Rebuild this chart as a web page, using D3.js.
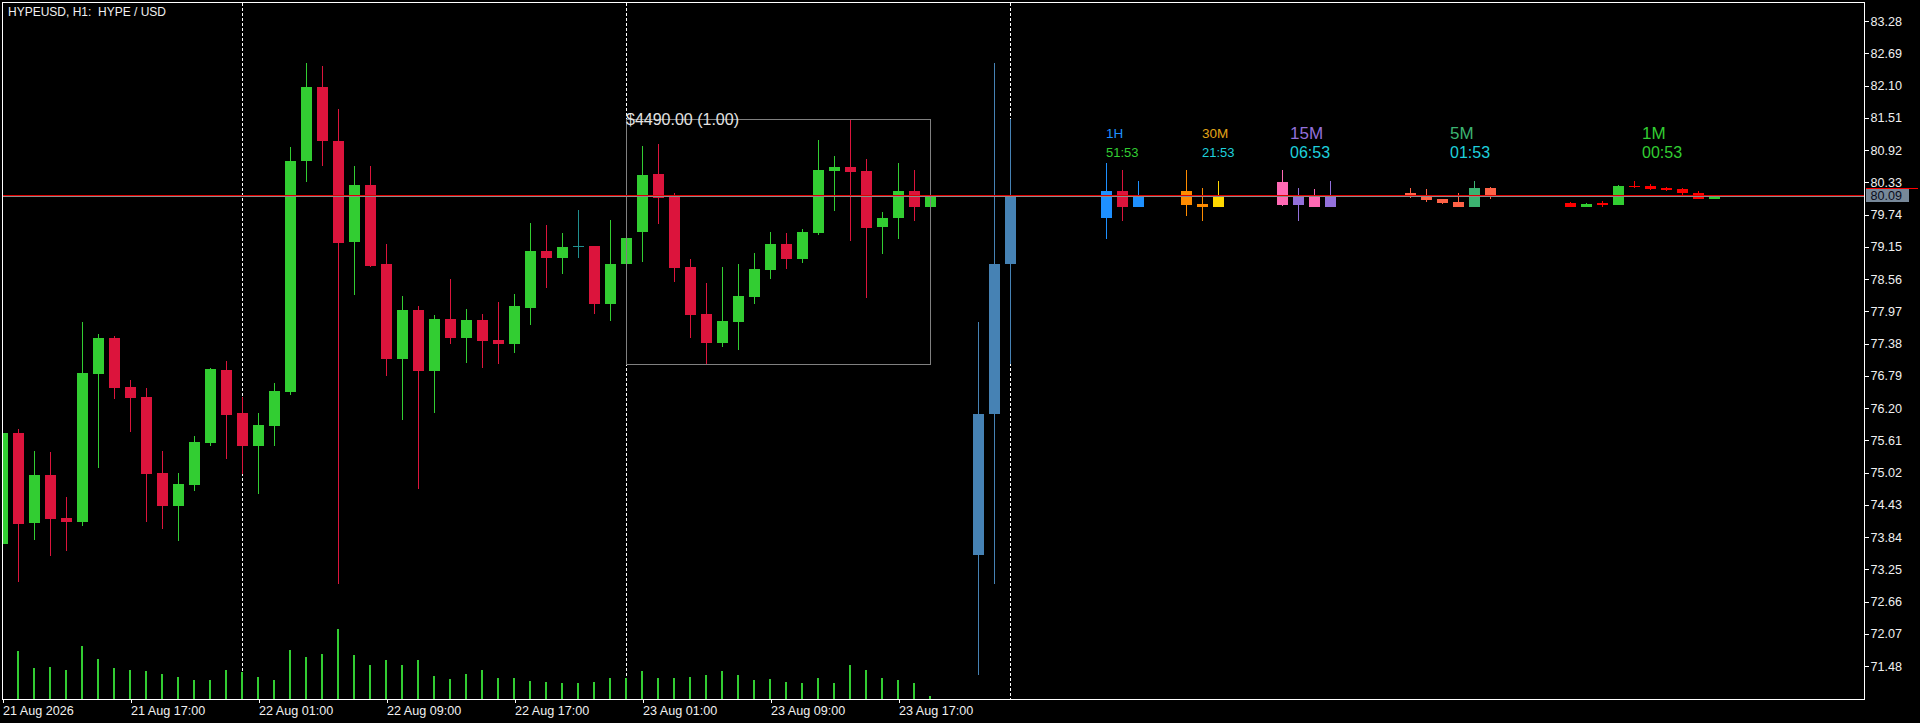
<!DOCTYPE html>
<html><head><meta charset="utf-8">
<script src="https://cdn.jsdelivr.net/npm/d3@7"></script>
<style>
html,body{margin:0;padding:0;background:#000;overflow:hidden}
svg{display:block}
</style></head><body>
<svg id="chart" width="1920" height="723"></svg>
<script>
// ---------------- DATA ----------------
const chartTitle = "HYPEUSD, H1:  HYPE / USD";
const xTickIndex = [0, 8, 16, 24, 32, 40, 48, 56];
const xTickLabels = ["21 Aug 2026","21 Aug 17:00","22 Aug 01:00","22 Aug 09:00","22 Aug 17:00","23 Aug 01:00","23 Aug 09:00","23 Aug 17:00"];
const yTickLabels = ["83.28","82.69","82.10","81.51","80.92","80.33","79.74","79.15","78.56","77.97","77.38","76.79","76.20","75.61","75.02","74.43","73.84","73.25","72.66","72.07","71.48"];
const daySeparators = [15, 39, 63];

const h1Open  = [73.72,75.75,74.10,74.98,74.19,74.12,76.83,77.48,76.59,76.40,75.01,74.41,74.79,75.56,76.90,76.11,75.51,75.87,76.50,80.72,82.08,81.09,79.24,80.28,78.84,77.10,78.00,76.88,77.83,77.48,77.81,77.45,77.37,78.03,79.08,78.95,79.17,79.17,78.11,78.84,79.43,80.49,80.06,78.78,77.92,77.39,77.78,78.23,78.73,79.20,78.93,79.41,80.54,80.61,80.54,79.52,79.68,80.17,79.88];
const h1High  = [75.80,75.82,75.42,75.40,74.58,77.78,77.56,77.52,76.72,76.57,75.42,75.01,75.69,76.93,77.06,76.40,76.11,76.66,80.98,82.51,82.46,81.67,80.63,80.63,79.20,78.25,78.07,77.91,78.56,78.02,77.92,78.14,78.29,79.59,79.55,79.41,79.83,79.17,79.64,79.33,81.00,81.03,80.14,78.93,78.49,78.78,78.84,79.04,79.42,79.41,79.48,81.11,80.81,81.47,80.76,79.79,80.69,80.56,80.09];
const h1Low   = [73.20,73.02,73.79,73.50,73.59,74.05,75.11,76.37,75.76,74.12,73.99,73.77,74.69,75.51,75.27,75.00,74.63,75.51,76.44,80.33,80.64,72.98,78.27,78.78,76.79,75.98,74.72,76.11,77.37,77.03,76.94,77.01,77.21,77.72,78.40,78.66,78.95,77.92,77.80,78.82,78.88,79.57,78.51,77.48,77.01,77.32,77.27,78.11,78.56,78.75,78.86,79.37,79.81,79.26,78.22,79.02,79.30,79.63,79.88];
const h1Close = [75.75,74.09,74.98,74.17,74.12,76.84,77.48,76.57,76.39,75.00,74.41,74.81,75.58,76.92,76.08,75.51,75.89,76.51,80.72,82.08,81.08,79.22,80.28,78.80,77.10,78.00,76.88,77.83,77.48,77.81,77.43,77.37,78.07,79.08,78.95,79.15,79.17,78.11,78.84,79.31,80.47,80.05,78.77,77.91,77.39,77.80,78.25,78.75,79.20,78.93,79.42,80.56,80.61,80.52,79.50,79.68,80.17,79.88,80.09];
const h1Volume = [30,48,31,32,29,53,40,31,29,28,25,22,19,19,29,27,22,19,49,42,45,70,44,34,39,34,39,23,20,25,29,21,21,18,17,16,16,17,21,21,28,21,21,22,24,28,24,19,20,17,16,21,16,34,29,21,19,16,3];

// higher-timeframe overview candles drawn after the H1 bars
const ovIndex = [61, 62, 63];
const ovOpen  = [73.52, 76.10, 78.84];
const ovHigh  = [77.78, 82.51, 81.49];
const ovLow   = [71.31, 72.99, 77.00];
const ovClose = [76.10, 78.84, 80.09];

// multi-timeframe mini candles [open, high, low, close]
const tfNames  = ["1H", "30M", "15M", "5M", "1M"];
const tfTimers = ["51:53", "21:53", "06:53", "01:53", "00:53"];
const tfStart  = [69, 74, 80, 88, 98];
const tf1H  = [[79.68,80.69,79.30,80.17],[80.17,80.56,79.63,79.89],[79.89,80.36,79.89,80.08]];
const tf30M = [[80.17,80.56,79.72,79.92],[79.94,80.23,79.63,79.89],[79.89,80.36,79.89,80.08]];
const tf15M = [[80.34,80.56,79.90,79.92],[79.92,80.23,79.63,80.07],[80.08,80.21,79.89,79.89],[79.89,80.36,79.89,80.08]];
const tf5M  = [[80.14,80.23,80.05,80.07],[80.08,80.21,79.98,80.01],[80.03,80.03,79.94,79.96],[79.97,80.14,79.89,79.89],[79.89,80.36,79.89,80.23],[80.23,80.25,80.03,80.08]];
const tf1M  = [[79.95,79.97,79.89,79.89],[79.89,79.95,79.89,79.94],[79.96,79.99,79.89,79.92],[79.92,80.28,79.92,80.26],[80.27,80.36,80.23,80.25],[80.26,80.30,80.19,80.21],[80.23,80.25,80.17,80.20],[80.21,80.23,80.07,80.13],[80.14,80.17,80.03,80.03],[80.03,80.08,80.03,80.08]];

const boxFrom = 39, boxTo = 58, boxHigh = 81.49, boxLow = 77.01;
const boxLabel = "$4490.00 (1.00)";
const bidPrice = 80.09;
const linePrice = 80.07;

// ---------------- DRAW ----------------
const svg = d3.select("#chart");
const W = 1920, H = 723;
const L = 2.5, T = 2.5, R = 1864.5, B = 699.5;

const xs = d3.scaleLinear().domain([0, 116]).range([2.5, 1858.5]);
const ys = d3.scaleLinear().domain([71.48, 83.28]).range([666.2, 21.2]);
const yv = d3.scaleLinear().domain([0, 100]).range([699, 599]);

svg.append("rect").attr("width", W).attr("height", H).attr("fill", "#000");

svg.append("defs").append("clipPath").attr("id", "plot")
  .append("rect").attr("x", 3).attr("y", 3).attr("width", 1861).attr("height", 696);

const plot = svg.append("g").attr("clip-path", "url(#plot)").attr("shape-rendering", "crispEdges");

// day separators
plot.selectAll("line.sep").data(daySeparators).join("line")
  .attr("x1", d => xs(d)).attr("x2", d => xs(d))
  .attr("y1", 3).attr("y2", 699)
  .attr("stroke", "#ffffff").attr("stroke-width", 1).attr("stroke-dasharray", "3,2");

// volumes
plot.selectAll("rect.vol").data(h1Volume).join("rect")
  .attr("x", (d, i) => xs(i) - 1.5)
  .attr("y", d => Math.round(yv(d)))
  .attr("width", 2)
  .attr("height", d => 699 - Math.round(yv(d)))
  .attr("fill", "#32CD32");

function candle(g, i, o, h, l, c, color) {
  const x = xs(i);
  const yH = Math.round(ys(h)), yL = Math.round(ys(l));
  const yT = Math.round(ys(Math.max(o, c))), yB = Math.round(ys(Math.min(o, c)));
  g.append("line").attr("x1", x).attr("x2", x).attr("y1", yH).attr("y2", Math.max(yL, yH + 1))
    .attr("stroke", color).attr("stroke-width", 1);
  g.append("rect").attr("x", x - 5.5).attr("y", yT).attr("width", 11)
    .attr("height", Math.max(1, yB - yT)).attr("fill", color);
}

const bull = "#32CD32", bear = "#DC143C", doji = "#1f8f8f";
h1Open.forEach((o, i) => {
  const c = h1Close[i];
  const col = c > o ? bull : (c < o ? bear : doji);
  candle(plot, i, o, h1High[i], h1Low[i], c, col);
});

ovIndex.forEach((idx, k) => candle(plot, idx, ovOpen[k], ovHigh[k], ovLow[k], ovClose[k], "#4682B4"));

const tfData = [tf1H, tf30M, tf15M, tf5M, tf1M];
const tfBull = ["#1E90FF", "#FFD700", "#9370DB", "#3CB371", "#32CD32"];
const tfBear = ["#DC143C", "#FF8C00", "#FF69B4", "#FF6347", "#FF0000"];
tfData.forEach((arr, g) => {
  arr.forEach((d, k) => {
    candle(plot, tfStart[g] + k, d[0], d[1], d[2], d[3], d[3] >= d[0] ? tfBull[g] : tfBear[g]);
  });
});

// rectangle object
plot.append("rect")
  .attr("x", xs(boxFrom)).attr("y", Math.round(ys(boxHigh)) + 0.5)
  .attr("width", xs(boxTo) - xs(boxFrom))
  .attr("height", Math.round(ys(boxLow)) - Math.round(ys(boxHigh)))
  .attr("fill", "none").attr("stroke", "#808080").attr("stroke-width", 1);

// horizontal lines
plot.append("line").attr("x1", 3).attr("x2", 1864)
  .attr("y1", Math.floor(ys(linePrice)) + 0.5).attr("y2", Math.floor(ys(linePrice)) + 0.5)
  .attr("stroke", "#8c8c8c").attr("stroke-width", 1);
plot.append("line").attr("x1", 3).attr("x2", 1864)
  .attr("y1", Math.floor(ys(bidPrice)) + 0.5).attr("y2", Math.floor(ys(bidPrice)) + 0.5)
  .attr("stroke", "#E00000").attr("stroke-width", 1);

// texts in plot
svg.append("text").attr("x", 626).attr("y", 125)
  .attr("font-family", "Liberation Sans, Arial, sans-serif").attr("font-size", 16)
  .attr("fill", "#e4e4e4").text(boxLabel);

svg.append("text").attr("x", 8).attr("y", 16)
  .attr("font-family", "Liberation Sans, Arial, sans-serif").attr("font-size", 12)
  .style("white-space", "pre").attr("fill", "#f0f0f0").text(chartTitle);

const tfNameColor  = ["#1E90FF", "#E0A418", "#9370DB", "#3CB371", "#32CD32"];
const tfTimerColor = ["#32CD32", "#1ED0DC", "#1ED0DC", "#1ED0DC", "#32CD32"];
const tfLabelOffset = [0, 1, 0.5, 2.5, 4.5];
const tfNameSize  = [13.5, 13.5, 17, 17, 17];
const tfTimerSize = [13, 13, 16, 16, 16];
const tfNameY  = [137.7, 137.7, 139, 139, 139];
const tfTimerY = [156.7, 156.7, 158, 158, 158];
tfNames.forEach((n, g) => {
  const x = xs(tfStart[g] + tfLabelOffset[g]) - 0.5;
  svg.append("text").attr("x", x).attr("y", tfNameY[g])
    .attr("font-family", "Liberation Sans, Arial, sans-serif").attr("font-size", tfNameSize[g])
    .attr("fill", tfNameColor[g]).text(n);
  svg.append("text").attr("x", x).attr("y", tfTimerY[g])
    .attr("font-family", "Liberation Sans, Arial, sans-serif").attr("font-size", tfTimerSize[g])
    .attr("fill", tfTimerColor[g]).text(tfTimers[g]);
});

// frame
svg.append("rect").attr("x", L).attr("y", T).attr("width", R - L).attr("height", B - T)
  .attr("fill", "none").attr("stroke", "#ffffff").attr("stroke-width", 1)
  .attr("shape-rendering", "crispEdges");

// axes
const axisFont = "Liberation Sans, Arial, sans-serif";
const yAxis = d3.axisRight(ys)
  .tickValues(yTickLabels.map(Number))
  .tickFormat((d, i) => yTickLabels[i])
  .tickSize(4).tickPadding(2);
const gy = svg.append("g").attr("transform", `translate(${R},0)`).call(yAxis);
gy.select(".domain").remove();
gy.selectAll("line").attr("stroke", "#ffffff").attr("shape-rendering", "crispEdges");
gy.selectAll("text").attr("fill", "#f0f0f0").attr("font-family", axisFont).attr("font-size", 12.6);

const xAxis = d3.axisBottom(xs)
  .tickValues(xTickIndex)
  .tickFormat((d, i) => xTickLabels[i])
  .tickSize(4).tickPadding(3);
const gx = svg.append("g").attr("transform", `translate(0,${B - 0.5})`).call(xAxis);
gx.select(".domain").remove();
gx.selectAll("line").attr("stroke", "#ffffff").attr("shape-rendering", "crispEdges");
gx.selectAll("text").attr("fill", "#f0f0f0").attr("font-family", axisFont).attr("font-size", 12.6)
  .attr("text-anchor", "start").attr("dx", 0);

// current price label
const by = Math.floor(ys(bidPrice));
svg.append("rect").attr("x", 1866).attr("y", by - 7).attr("width", 43).attr("height", 14)
  .attr("fill", "#778899").attr("shape-rendering", "crispEdges");
svg.append("line").attr("x1", 1866).attr("x2", 1918).attr("y1", by - 6.5).attr("y2", by - 6.5)
  .attr("stroke", "#FF0000").attr("shape-rendering", "crispEdges");
svg.append("text").attr("x", 1870.5).attr("y", by).attr("dy", "0.36em")
  .attr("font-family", axisFont).attr("font-size", 12.6).attr("fill", "#0b0b1a")
  .text(d3.format(".2f")(bidPrice));
</script>
</body></html>
